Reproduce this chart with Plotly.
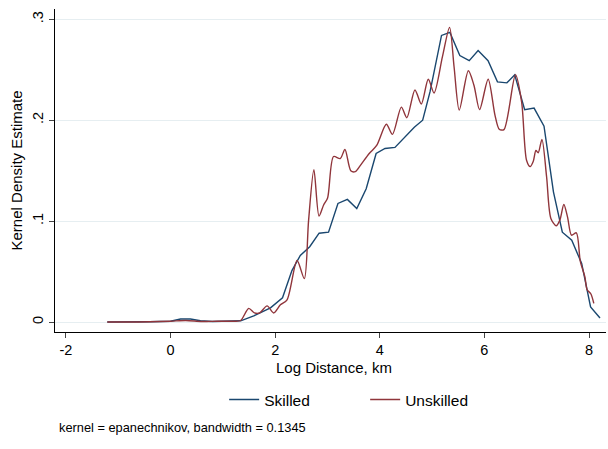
import plotly.graph_objects as go

# ---- data ----
skilled_x = [-1.21, -0.8, -0.4, 0.0, 0.19, 0.38, 0.57, 0.8, 1.0, 1.2, 1.34, 1.59, 1.91, 2.14,
             2.32, 2.48, 2.66, 2.84, 3.02, 3.20, 3.38, 3.56, 3.74, 3.93, 4.10, 4.29, 4.48,
             4.66, 4.82, 4.96, 5.18, 5.34, 5.53, 5.71, 5.88, 6.07, 6.25, 6.43, 6.58, 6.77,
             6.95, 7.14, 7.32, 7.49, 7.67, 7.86, 8.03, 8.21]
skilled_y = [0.0, 0.0, 0.0003, 0.0008, 0.003, 0.003, 0.0012, 0.0005, 0.0005, 0.0008, 0.0012,
             0.006, 0.014, 0.024, 0.051, 0.066, 0.0746, 0.088, 0.089, 0.1175, 0.1215, 0.1125,
             0.132, 0.167, 0.172, 0.173, 0.183, 0.193, 0.200, 0.228, 0.284, 0.287, 0.264,
             0.259, 0.269, 0.259, 0.238, 0.237, 0.245, 0.2105, 0.212, 0.194, 0.129, 0.089,
             0.081, 0.058, 0.015, 0.004]

unskilled_x = [-1.21, -0.8, -0.4, 0.0, 0.29, 0.6, 0.9, 1.2, 1.34, 1.494, 1.603, 1.704, 1.845,
               1.971, 2.099, 2.227, 2.418, 2.557, 2.639, 2.74, 2.838, 2.926, 3.002, 3.116,
               3.244, 3.334, 3.445, 3.53, 3.626, 3.798, 3.94, 4.126, 4.242, 4.412, 4.517,
               4.672, 4.794, 4.927, 5.038, 5.197, 5.334, 5.42, 5.519, 5.693, 5.80, 5.908,
               6.072, 6.202, 6.284, 6.374, 6.594, 6.712, 6.807, 6.876, 6.933, 6.985, 7.029,
               7.10, 7.189, 7.271, 7.372, 7.443, 7.519, 7.59, 7.666, 7.758, 7.834, 7.92,
               7.964, 8.034, 8.092]
unskilled_y = [0.0, 0.0, 0.0002, 0.0008, 0.0015, 0.0005, 0.0008, 0.0008, 0.0015, 0.0135, 0.009,
               0.009, 0.016, 0.009, 0.017, 0.022, 0.061, 0.043, 0.101, 0.151, 0.105, 0.116,
               0.123, 0.164, 0.162, 0.171, 0.150, 0.149, 0.155, 0.167, 0.175, 0.196, 0.186,
               0.213, 0.2025, 0.230, 0.216, 0.2406, 0.227, 0.2627, 0.292, 0.253, 0.210, 0.249,
               0.2347, 0.2105, 0.2406, 0.205, 0.191, 0.1907, 0.245, 0.218, 0.160, 0.154, 0.159,
               0.170, 0.1677, 0.181, 0.144, 0.1027, 0.0954, 0.101, 0.1165, 0.104, 0.086,
               0.0884, 0.060, 0.045, 0.032, 0.028, 0.0185]

x_tickvals = [-2, 0, 2, 4, 6, 8]
x_ticktext = ["-2", "0", "2", "4", "6", "8"]
y_tickvals = [0, 0.1, 0.2, 0.3]
y_ticktext = ["0", ".1", ".2", ".3"]

FONT = "Arial, Liberation Sans, Helvetica, sans-serif"

fig = go.Figure()
fig.add_trace(go.Scatter(x=skilled_x, y=skilled_y, mode="lines", name="Skilled",
                         line=dict(color="#1a476f", width=1.4)))
fig.add_trace(go.Scatter(x=unskilled_x, y=unskilled_y, mode="lines", name="Unskilled",
                         line=dict(color="#90353b", width=1.4, shape="spline", smoothing=0.8)))

fig.update_layout(
    width=608, height=449,
    margin=dict(l=55, r=2, t=9, b=117),
    paper_bgcolor="white", plot_bgcolor="white",
    font=dict(family=FONT, size=15, color="black"),
    showlegend=True,
    legend=dict(orientation="h", x=0.307, xanchor="left", y=-0.2105, yanchor="middle",
                font=dict(size=15.5), entrywidthmode="pixels", entrywidth=96,
                bgcolor="rgba(0,0,0,0)"),
    xaxis=dict(range=[-2.21, 8.325], tickvals=x_tickvals, ticktext=x_ticktext,
               showline=True, linecolor="black", linewidth=1, mirror=False,
               ticks="outside", ticklen=5, tickcolor="#444", showgrid=False, zeroline=False,
               tickfont=dict(size=14.5)),
    yaxis=dict(range=[-0.0099, 0.3102], tickvals=y_tickvals, ticktext=y_ticktext,
               showline=True, linecolor="black", linewidth=1,
               ticks="outside", ticklen=5, tickcolor="#444", tickangle=-90,
               showgrid=True, gridcolor="#e6eef1", gridwidth=1, zeroline=False,
               tickfont=dict(size=14.5)),
    annotations=[
        dict(text="Log Distance, km", xref="paper", yref="paper", x=0.506, y=-0.11,
             xanchor="center", yanchor="middle", showarrow=False, font=dict(size=15)),
        dict(text="Kernel Density Estimate", xref="paper", yref="paper", x=-0.069, y=0.5,
             xanchor="center", yanchor="middle", textangle=-90, showarrow=False,
             font=dict(size=15)),
        dict(text="kernel = epanechnikov, bandwidth = 0.1345", xref="paper", yref="paper",
             x=0.0036, y=-0.297, xanchor="left", yanchor="middle", showarrow=False,
             font=dict(size=12.8)),
    ],
)

fig.write_html("out.html", config={"displayModeBar": False},
               post_script="document.body.style.margin='0px';")
